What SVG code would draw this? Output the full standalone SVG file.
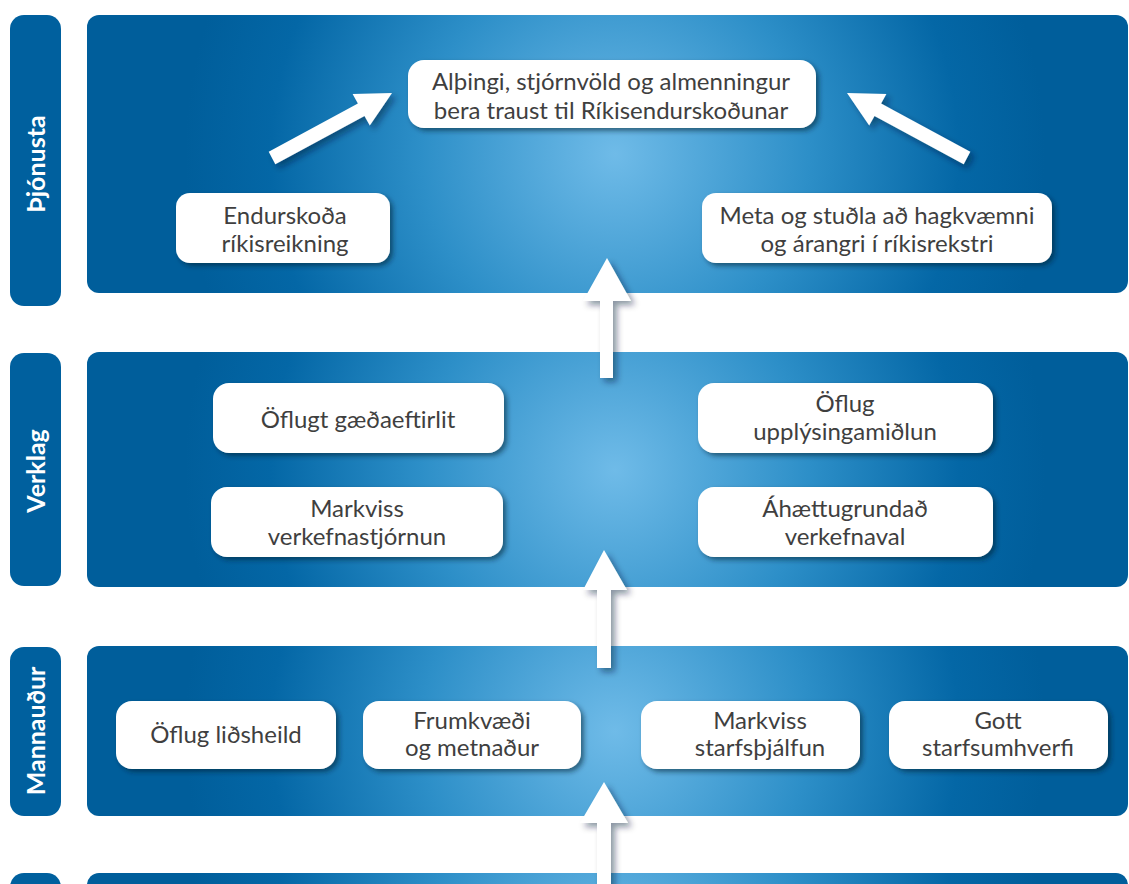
<svg xmlns="http://www.w3.org/2000/svg" width="1129" height="884" viewBox="0 0 1129 884">
<style>
.lab{fill:#00609e}
.labt{fill:#fff;font-family:Lato,"Open Sans",sans-serif;font-weight:bold;font-size:25px;text-anchor:middle}
.box{fill:#fff;filter:url(#sh)}
.bt{fill:#3f3f3f;font-family:Lato,"Open Sans",sans-serif;font-size:24px;text-anchor:middle}
.arr{fill:#fff;filter:url(#ash)}
</style>
<defs>
<filter id="sh" x="-10%" y="-20%" width="125%" height="150%">
<feDropShadow dx="3" dy="3" stdDeviation="2.5" flood-color="#001a33" flood-opacity="0.55"/>
</filter>
<filter id="ash" x="-30%" y="-30%" width="160%" height="160%">
<feDropShadow dx="4" dy="4" stdDeviation="3" flood-color="#001a33" flood-opacity="0.45"/>
</filter>
<radialGradient id="g1" gradientUnits="userSpaceOnUse" cx="615" cy="154" r="430">
<stop offset="0" stop-color="#6fbbe8"/>
<stop offset="0.45" stop-color="#2d8fc8"/>
<stop offset="0.8" stop-color="#0467a6"/>
<stop offset="1" stop-color="#005e9b"/>
</radialGradient>
<radialGradient id="g2" gradientUnits="userSpaceOnUse" cx="615" cy="470" r="430">
<stop offset="0" stop-color="#6fbbe8"/>
<stop offset="0.45" stop-color="#2d8fc8"/>
<stop offset="0.8" stop-color="#0467a6"/>
<stop offset="1" stop-color="#005e9b"/>
</radialGradient>
<radialGradient id="g3" gradientUnits="userSpaceOnUse" cx="615" cy="731" r="430">
<stop offset="0" stop-color="#6fbbe8"/>
<stop offset="0.45" stop-color="#2d8fc8"/>
<stop offset="0.8" stop-color="#0467a6"/>
<stop offset="1" stop-color="#005e9b"/>
</radialGradient>
<radialGradient id="g4" gradientUnits="userSpaceOnUse" cx="615" cy="960" r="430">
<stop offset="0" stop-color="#6fbbe8"/>
<stop offset="0.45" stop-color="#2d8fc8"/>
<stop offset="0.8" stop-color="#0467a6"/>
<stop offset="1" stop-color="#005e9b"/>
</radialGradient>
</defs>
<rect width="1129" height="884" fill="#fff"/>

<g id="layer-thjonusta">
<rect class="lab" x="10" y="15" width="51" height="291" rx="14"/>
<text class="labt" transform="translate(45,164) rotate(-90)">Þjónusta</text>
<rect x="87" y="15" width="1041" height="278" rx="12" fill="url(#g1)"/>
</g>
<g id="layer-verklag">
<rect class="lab" x="10" y="353" width="51" height="233" rx="14"/>
<text class="labt" transform="translate(45,471) rotate(-90)">Verklag</text>
<rect x="87" y="352" width="1041" height="235" rx="12" fill="url(#g2)"/>
</g>
<g id="layer-mannaudur">
<rect class="lab" x="10" y="647" width="51" height="169" rx="14"/>
<text class="labt" transform="translate(45,731) rotate(-90)">Mannauður</text>
<rect x="87" y="646" width="1041" height="170" rx="12" fill="url(#g3)"/>
</g>
<g id="layer-bottom">
<rect class="lab" x="10" y="873" width="51" height="60" rx="14"/>
<rect x="87" y="873" width="1041" height="60" rx="12" fill="url(#g4)"/>
</g>

<g id="connectors">
<polygon class="arr" points="275.3,164.2 268.7,151.8 357.9,103.5 352.6,93.9 392,93 369.8,125.5 364.5,115.9"/>
<polygon class="arr" points="963.7,164.2 970.3,151.8 881.1,103.5 886.4,93.9 847,93 869.2,125.5 874.5,115.9"/>
<polygon class="arr" points="600,378 600,301 583,301 607,258 631,301 613,301 613,378"/>
<polygon class="arr" points="597,668 597,590 583,590 604,550 627,590 611,590 611,668"/>
<polygon class="arr" points="597,890 597,823 580,823 604,782 628,823 611,823 611,890"/>
</g>

<g id="n-althingi">
<rect class="box" x="408" y="60" width="408" height="68" rx="16"/>
<text class="bt" x="611" y="90">Alþingi, stjórnvöld og almenningur</text>
<text class="bt" x="611" y="119">bera traust til Ríkisendurskoðunar</text>
</g>
<g id="n-endurskoda">
<rect class="box" x="176" y="193" width="214" height="70" rx="14"/>
<text class="bt" x="285" y="224">Endurskoða</text>
<text class="bt" x="285" y="252">ríkisreikning</text>
</g>
<g id="n-meta">
<rect class="box" x="702" y="193" width="350" height="70" rx="14"/>
<text class="bt" x="877" y="224">Meta og stuðla að hagkvæmni</text>
<text class="bt" x="877" y="252">og árangri í ríkisrekstri</text>
</g>

<g id="n-gaedaeftirlit">
<rect class="box" x="213" y="383" width="291" height="70" rx="16"/>
<text class="bt" x="358" y="428">Öflugt gæðaeftirlit</text>
</g>
<g id="n-upplysingamidlun">
<rect class="box" x="698" y="383" width="295" height="70" rx="16"/>
<text class="bt" x="845" y="412">Öflug</text>
<text class="bt" x="845" y="440">upplýsingamiðlun</text>
</g>
<g id="n-verkefnastjornun">
<rect class="box" x="211" y="487" width="292" height="70" rx="16"/>
<text class="bt" x="357" y="517">Markviss</text>
<text class="bt" x="357" y="545">verkefnastjórnun</text>
</g>
<g id="n-verkefnaval">
<rect class="box" x="698" y="487" width="295" height="70" rx="16"/>
<text class="bt" x="845" y="517">Áhættugrundað</text>
<text class="bt" x="845" y="545">verkefnaval</text>
</g>

<g id="n-lidsheild">
<rect class="box" x="116" y="701" width="220" height="68" rx="16"/>
<text class="bt" x="226" y="743">Öflug liðsheild</text>
</g>
<g id="n-frumkvaedi">
<rect class="box" x="363" y="701" width="218" height="68" rx="16"/>
<text class="bt" x="472" y="729">Frumkvæði</text>
<text class="bt" x="472" y="756">og metnaður</text>
</g>
<g id="n-starfsthjalfun">
<rect class="box" x="641" y="701" width="219" height="68" rx="16"/>
<text class="bt" x="760" y="729">Markviss</text>
<text class="bt" x="760" y="756">starfsþjálfun</text>
</g>
<g id="n-starfsumhverfi">
<rect class="box" x="889" y="701" width="219" height="68" rx="16"/>
<text class="bt" x="998" y="729">Gott</text>
<text class="bt" x="998" y="756">starfsumhverfi</text>
</g>
</svg>
